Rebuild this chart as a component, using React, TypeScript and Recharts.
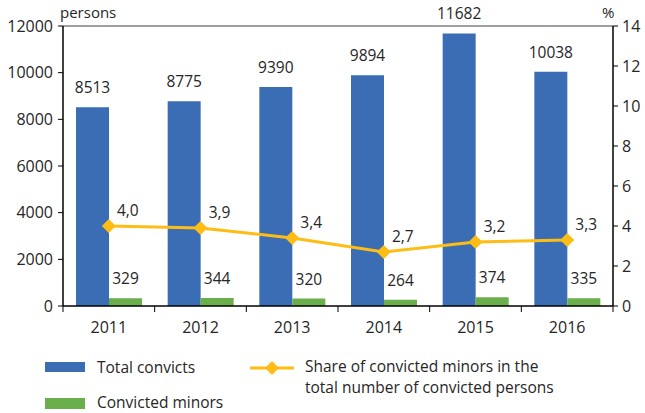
import { Bar, ComposedChart, LabelList, Line, ReferenceLine, XAxis, YAxis } from "recharts";

const years = ["2011", "2012", "2013", "2014", "2015", "2016"];
const totalConvicts = [8513, 8775, 9390, 9894, 11682, 10038];
const convictedMinors = [329, 344, 320, 264, 374, 335];
const minorShare = [4.0, 3.9, 3.4, 2.7, 3.2, 3.3];
const leftTicks = [0, 2000, 4000, 6000, 8000, 10000, 12000];
const rightTicks = [0, 2, 4, 6, 8, 10, 12, 14];

const data = years.map((year, i) => ({
  year,
  total: totalConvicts[i],
  minors: convictedMinors[i],
  share: minorShare[i]
}));

const BLUE = "#3B6DB5";
const GREEN = "#6AAF4B";
const GOLD = "#FDBD14";
const TEXT = "#262626";
const FONT = "'Open Sans', sans-serif";

const CHART_W = 645;
const LEFT_W = 63;
const RIGHT_W = 32;
const PLOT_W = CHART_W - LEFT_W - RIGHT_W;

const XTick = (props: any) => {
  const { x, y, payload, index } = props;
  const band = PLOT_W / years.length;
  return (
    <g>
      <line x1={x - band / 2} x2={x - band / 2} y1={y} y2={y + 6} stroke="#000" />
      {index === years.length - 1 && (
        <line x1={x + band / 2} x2={x + band / 2} y1={y} y2={y + 6} stroke="#000" />
      )}
      <text x={x} y={y + 27} textAnchor="middle" fontSize={16} fill={TEXT} fontFamily={FONT}>
        {payload.value}
      </text>
    </g>
  );
};

const Diamond = (props: any) => {
  const { cx, cy } = props;
  if (cx == null || cy == null) return null;
  const r = 7;
  return (
    <polygon
      points={`${cx},${cy - r} ${cx + r},${cy} ${cx},${cy + r} ${cx - r},${cy}`}
      fill={GOLD}
    />
  );
};

const ShareLabel = (props: any) => {
  const { x, y, value } = props;
  return (
    <text x={x + 19} y={y - 10} textAnchor="middle" fontSize={15.5} fill={TEXT} fontFamily={FONT}>
      {Number(value).toFixed(1).replace(".", ",")}
    </text>
  );
};

export default function App() {
  return (
    <div style={{ position: "absolute", left: 0, top: 0, width: 645, height: 413, fontFamily: FONT, color: TEXT, background: "#fff" }}>
      <div style={{ position: "absolute", left: 60, top: 2, fontSize: 15 }}>persons</div>
      <div style={{ position: "absolute", left: 602, top: 2, fontSize: 15 }}>%</div>
      <ComposedChart
        width={CHART_W}
        height={340}
        data={data}
        margin={{ top: 26, right: 0, bottom: 0, left: 0 }}
        barCategoryGap={13}
        barGap={0}
        style={{ position: "absolute", left: 0, top: 0 }}
      >
        <ReferenceLine yAxisId="left" y={12000} stroke="#808080" strokeWidth={1.5} />
        <XAxis
          dataKey="year"
          axisLine={{ stroke: "#000", strokeWidth: 1.5 }}
          tickLine={false}
          tickSize={0}
          tickMargin={0}
          height={34}
          tick={<XTick />}
          interval={0}
        />
        <YAxis
          yAxisId="left"
          width={LEFT_W}
          domain={[0, 12000]}
          ticks={leftTicks}
          interval={0}
          axisLine={{ stroke: "#000", strokeWidth: 1.5 }}
          tickLine={{ stroke: "#000" }}
          tickSize={5}
          tickMargin={5}
          tick={{ fill: TEXT, fontSize: 16, fontFamily: FONT }}
        />
        <YAxis
          yAxisId="right"
          orientation="right"
          width={RIGHT_W}
          domain={[0, 14]}
          ticks={rightTicks}
          interval={0}
          axisLine={{ stroke: "#000", strokeWidth: 1.5 }}
          tickLine={{ stroke: "#000" }}
          tickSize={5}
          tickMargin={4}
          tick={{ fill: TEXT, fontSize: 16, fontFamily: FONT }}
        />
        <Bar yAxisId="left" dataKey="total" fill={BLUE} isAnimationActive={false}>
          <LabelList dataKey="total" position="top" offset={14} fill={TEXT} fontSize={15.5} fontFamily={FONT} />
        </Bar>
        <Bar yAxisId="left" dataKey="minors" fill={GREEN} isAnimationActive={false}>
          <LabelList dataKey="minors" position="top" offset={14} fill={TEXT} fontSize={15.5} fontFamily={FONT} />
        </Bar>
        <Line
          yAxisId="right"
          dataKey="share"
          stroke={GOLD}
          strokeWidth={3}
          dot={<Diamond />}
          activeDot={false}
          isAnimationActive={false}
        >
          <LabelList dataKey="share" content={<ShareLabel />} />
        </Line>
      </ComposedChart>

      <div style={{ position: "absolute", left: 45, top: 362, width: 40, height: 10, background: BLUE }} />
      <div style={{ position: "absolute", left: 97, top: 356, fontSize: 15.5 }}>Total convicts</div>
      <div style={{ position: "absolute", left: 45, top: 398, width: 40, height: 11, background: GREEN }} />
      <div style={{ position: "absolute", left: 97, top: 391, fontSize: 15.5 }}>Convicted minors</div>
      <svg style={{ position: "absolute", left: 248, top: 358 }} width={48} height={20}>
        <line x1={2} x2={46} y1={10} y2={10} stroke={GOLD} strokeWidth={3} />
        <polygon points="24,3 31,10 24,17 17,10" fill={GOLD} />
      </svg>
      <div style={{ position: "absolute", left: 305, top: 356, fontSize: 15.5, lineHeight: "21px" }}>
        Share of convicted minors in the
        <br />
        total number of convicted persons
      </div>
    </div>
  );
}
